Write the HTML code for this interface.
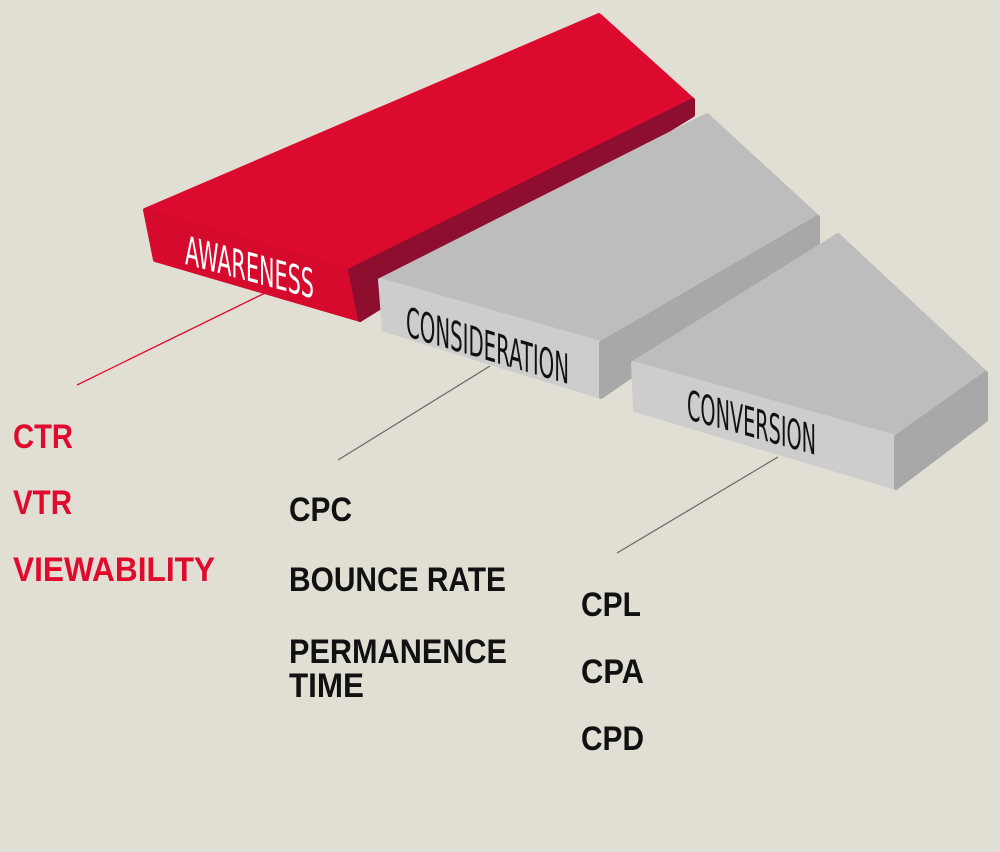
<!DOCTYPE html>
<html><head><style>
html,body{margin:0;padding:0;background:#e1dfd4;}
svg{display:block;}
</style></head><body>
<svg width="1000" height="852" viewBox="0 0 1000 852" xmlns="http://www.w3.org/2000/svg">
<rect width="1000" height="852" fill="#e1dfd4"/>
<g stroke-linejoin="round" stroke-width="4">
<polygon points="145,210 599,15 693,100 350,270" fill="#dc0a2e" stroke="#dc0a2e"/>
<polygon points="145,210 350,270 360,320 155,260" fill="#d60a2d" stroke="#d60a2d"/>
<polygon points="350,270 693,100 693,115 360,320" fill="#8e0e30" stroke="#8e0e30"/>
<polygon points="380,280 707,115 818,217 601,343" fill="#bdbdbd" stroke="#bdbdbd"/>
<polygon points="380,280 601,343 601,397 384,330" fill="#cdcdcd" stroke="#cdcdcd"/>
<polygon points="601,343 818,217 818,248 601,397" fill="#a8a8a8" stroke="#a8a8a8"/>
<polygon points="633,363 838,235 986,373 896,437" fill="#bdbdbd" stroke="#bdbdbd"/>
<polygon points="633,363 896,437 896,488 635,410" fill="#cdcdcd" stroke="#cdcdcd"/>
<polygon points="896,437 986,373 986,420 896,488" fill="#a8a8a8" stroke="#a8a8a8"/>
</g>
<g font-family="'Liberation Sans Narrow','DejaVu Sans Condensed','Liberation Sans',sans-serif">
<text transform="translate(185,264) skewY(15) scale(1,1.25)" font-size="32" fill="#fff" textLength="129" lengthAdjust="spacingAndGlyphs">AWARENESS</text>
<text transform="translate(406,336) skewY(16.5) scale(1,1.25)" font-size="33" fill="#111" textLength="163" lengthAdjust="spacingAndGlyphs">CONSIDERATION</text>
<text transform="translate(687,419) skewY(15.6) scale(1,1.25)" font-size="33" fill="#111" textLength="129" lengthAdjust="spacingAndGlyphs">CONVERSION</text>
</g>
<line x1="265" y1="293" x2="77" y2="385" stroke="#e00a2e" stroke-width="1.3"/>
<line x1="490" y1="366" x2="338" y2="460" stroke="#666" stroke-width="1.2"/>
<line x1="778" y1="457" x2="617" y2="553" stroke="#666" stroke-width="1.2"/>
<g font-family="'Liberation Sans',sans-serif" font-weight="bold" font-size="34">
<text x="13" y="448" fill="#e00a2e" textLength="60" lengthAdjust="spacingAndGlyphs">CTR</text>
<text x="13" y="514" fill="#e00a2e" textLength="59" lengthAdjust="spacingAndGlyphs">VTR</text>
<text x="13" y="581" fill="#e00a2e" textLength="202" lengthAdjust="spacingAndGlyphs">VIEWABILITY</text>
<text x="289" y="521" fill="#111" textLength="63" lengthAdjust="spacingAndGlyphs">CPC</text>
<text x="289" y="591" fill="#111" textLength="217" lengthAdjust="spacingAndGlyphs">BOUNCE RATE</text>
<text x="289" y="663" fill="#111" textLength="218" lengthAdjust="spacingAndGlyphs">PERMANENCE</text>
<text x="289" y="697" fill="#111" textLength="75" lengthAdjust="spacingAndGlyphs">TIME</text>
<text x="581" y="616" fill="#111" textLength="60" lengthAdjust="spacingAndGlyphs">CPL</text>
<text x="581" y="683" fill="#111" textLength="63" lengthAdjust="spacingAndGlyphs">CPA</text>
<text x="581" y="750" fill="#111" textLength="63" lengthAdjust="spacingAndGlyphs">CPD</text>
</g>
</svg>
</body></html>
